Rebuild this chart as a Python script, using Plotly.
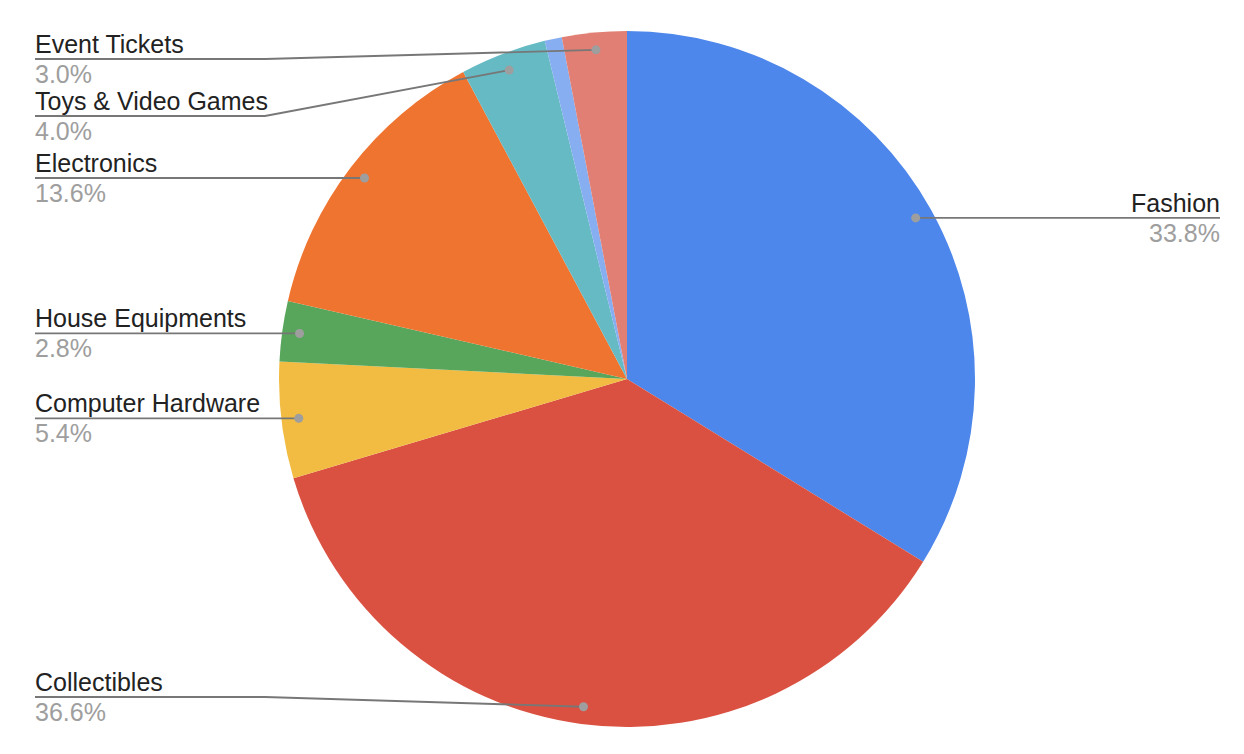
import math
import plotly.graph_objects as go

# ---- data ----
categories = ["Fashion", "Collectibles", "Computer Hardware", "House Equipments",
              "Electronics", "Toys & Video Games", "Other", "Event Tickets"]
shares = [33.8, 36.6, 5.4, 2.8, 13.6, 4.0, 0.8, 3.0]
colors = ["#4E87EB", "#DA5141", "#F2BC42", "#58A55C", "#EF7430", "#65BAC4", "#86AEF1", "#E17F74"]
show_label = [True, True, True, True, True, True, False, True]

# ---- layout constants (page pixels; the page body adds an 8px offset) ----
OFF = 8
W, H = 1244 - OFF, 754 - OFF
CX, CY, R = 627 - OFF, 379 - OFF, 348
DOT_R = 0.95
label_line_y = {"Collectibles": 697 - OFF, "Toys & Video Games": 116 - OFF, "Event Tickets": 59 - OFF}
LEFT_X, RIGHT_X, ELBOW_X = 35 - OFF, 1220 - OFF, 265 - OFF
FONT = "Liberation Sans, Arial, sans-serif"
FS = 25
LINE_C = "#777777"
DOT_C = "#9e9e9e"

fig = go.Figure()
fig.add_trace(go.Pie(
    labels=categories, values=shares, sort=False, direction="clockwise", rotation=0,
    marker=dict(colors=colors, line=dict(width=0)), textinfo="none",
    domain=dict(x=[(CX - R) / W, (CX + R) / W], y=[(H - CY - R) / H, (H - CY + R) / H]),
    showlegend=False, hoverinfo="label+percent",
))
# invisible helper trace so the pixel-unit axes exist
fig.add_trace(go.Scatter(x=[0, W], y=[0, H], mode="markers", marker=dict(opacity=0),
                         hoverinfo="skip", showlegend=False))

total = sum(shares)
cum = 0.0
annotations, shapes = [], []
for name, v, show in zip(categories, shares, show_label):
    mid = (cum + v / 2) / total
    cum += v
    if not show:
        continue
    ang = 2 * math.pi * mid
    dx = CX + DOT_R * R * math.sin(ang)
    dy = CY - DOT_R * R * math.cos(ang)
    ly = label_line_y.get(name, dy)
    if dx > CX:
        pts = [(dx, dy), (RIGHT_X, ly)]
        tx, anchor, xs = RIGHT_X, "right", 2
    else:
        if abs(ly - dy) > 1:
            pts = [(LEFT_X, ly), (ELBOW_X, ly), (dx, dy)]
        else:
            pts = [(LEFT_X, ly), (dx, dy)]
        tx, anchor, xs = LEFT_X, "left", -2
    path = "M " + " L ".join(f"{px:.2f},{py:.2f}" for px, py in pts)
    shapes.append(dict(type="path", path=path, xref="x", yref="y", layer="above",
                       line=dict(color=LINE_C, width=1.8)))
    shapes.append(dict(type="circle", xref="x", yref="y", layer="above",
                       x0=dx - 4.5, x1=dx + 4.5, y0=dy - 4.5, y1=dy + 4.5,
                       fillcolor=DOT_C, line=dict(width=0)))
    annotations.append(dict(x=tx, y=ly - 15, xref="x", yref="y", text=name, showarrow=False,
                            xanchor=anchor, yanchor="middle", xshift=xs,
                            font=dict(family=FONT, size=FS, color="#222222")))
    annotations.append(dict(x=tx, y=ly + 15, xref="x", yref="y", text=f"{v:.1f}%",
                            showarrow=False, xanchor=anchor, yanchor="middle", xshift=xs,
                            font=dict(family=FONT, size=FS, color="#9e9e9e")))

fig.update_layout(
    width=W, height=H, margin=dict(l=0, r=0, t=0, b=0),
    paper_bgcolor="white", plot_bgcolor="rgba(0,0,0,0)",
    xaxis=dict(range=[0, W], visible=False, fixedrange=True),
    yaxis=dict(range=[H, 0], visible=False, fixedrange=True),
    annotations=annotations, shapes=shapes, font=dict(family=FONT),
)
fig.write_html("out.html")
